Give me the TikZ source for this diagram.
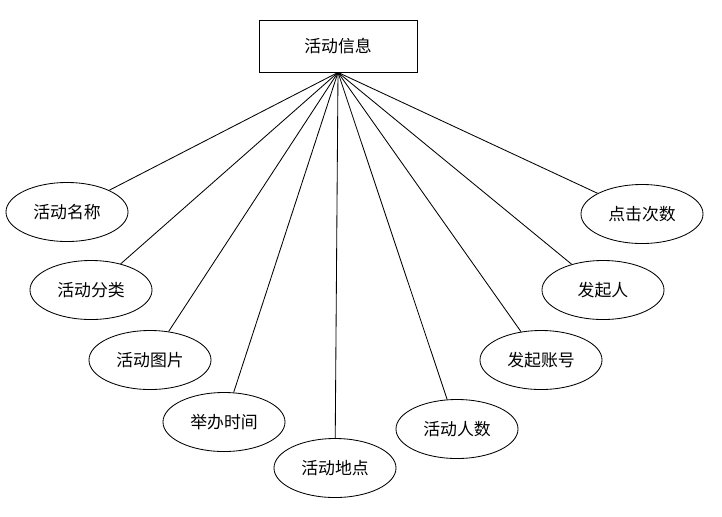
\documentclass[tikz,border=0pt]{standalone}
\usepackage{fontspec}
\newfontfamily\cjk{Noto Sans CJK SC}
\usetikzlibrary{shapes.geometric}
\begin{document}
\begin{tikzpicture}[x=0.025cm,y=-0.025cm,line width=0.6pt,
  entity/.style={draw,rectangle,minimum width=3.95cm,minimum height=1.3cm,
    font=\cjk\fontsize{12}{14}\selectfont},
  attr/.style={draw,ellipse,inner sep=0pt,minimum width=3.05cm,minimum height=1.475cm,
    font=\cjk\fontsize{12}{14}\selectfont}]
\useasboundingbox (0,0) rectangle (722,516);
\node[entity] (info) at (338,46) {活动信息};
\node[attr] (name) at (67,212) {活动名称};
\node[attr] (type) at (91,290) {活动分类};
\node[attr] (pic) at (150,360) {活动图片};
\node[attr] (time) at (224,422) {举办时间};
\node[attr] (place) at (335,468) {活动地点};
\node[attr] (count) at (457,429) {活动人数};
\node[attr] (account) at (541,360) {发起账号};
\node[attr] (starter) at (603,290) {发起人};
\node[attr] (clicks) at (642,214) {点击次数};
\foreach \a in {name,type,pic,time,place,count,account,starter,clicks}
  \draw (info.south) -- (\a);
\end{tikzpicture}
\end{document}
